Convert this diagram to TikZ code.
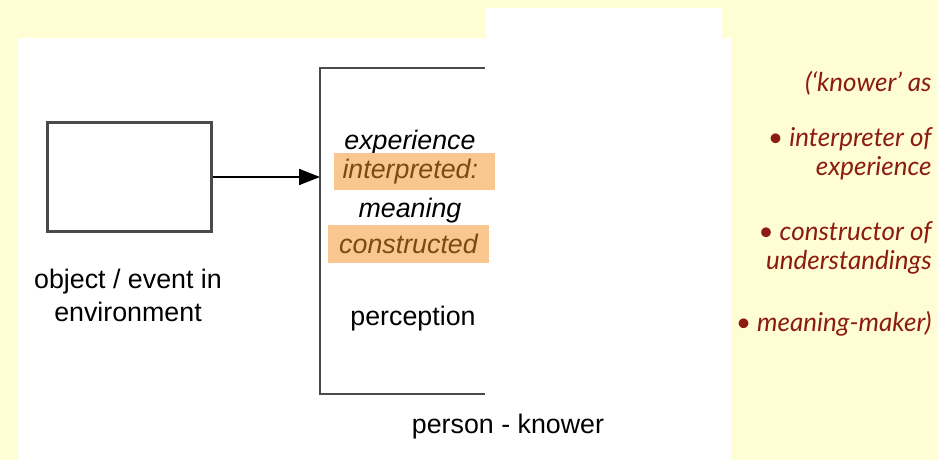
\documentclass[tikz,border=0pt]{standalone}
\usepackage{fontspec}
\setmainfont{Liberation Sans}
\newfontfamily\notefont{Lato}
\usetikzlibrary{arrows.meta}

\definecolor{bgyellow}{HTML}{FFFDD3}
\definecolor{linegray}{HTML}{4A4A4A}
\definecolor{hlorange}{HTML}{F8C68E}
\definecolor{hltext}{HTML}{7A4A14}
\definecolor{notered}{HTML}{8C1B12}

\tikzset{
  lbl/.style={font=\fontsize{13.4}{16.5}\selectfont, inner sep=0pt, align=center},
  ital/.style={lbl, font=\fontsize{13.4}{16.5}\selectfont\itshape},
  hilite/.style={ital, fill=hlorange, text=hltext, minimum width=80.5pt, minimum height=18.5pt},
  note/.style={font=\notefont\fontsize{13}{14.6}\selectfont\itshape, text=notered,
    inner sep=0pt, align=right, anchor=east}
}

\begin{document}
\begin{tikzpicture}[x=0.5pt, y=-0.5pt]
    % Fond jaune et panneau blanc
    \fill[bgyellow] (0,0) rectangle (938,460);
    \fill[white] (18,38) rectangle (731,460);
    \fill[white] (486,8) rectangle (722,38);
    \useasboundingbox (0,0) rectangle (938,460);

    % Objet / evenement
    \node[draw=linegray, line width=1.1pt, minimum width=82pt, minimum height=54.5pt, inner sep=0pt]
        (obj) at (129.5,177) {};
    \node[lbl] (objlbl) at (128,295) {object / event in\\environment};

    % Personne (crochet ouvert)
    \draw[linegray, line width=1pt] (485,68) -- (320,68) -- (320,394) -- (485,394);
    \coordinate (hit) at (320,177);
    \node[lbl] (knower) at (508,427) {person - knower};

    % Fleche vers la personne
    \draw[line width=0.9pt, -{Triangle[length=10.5pt, width=8pt]}] (obj.east) -- (hit);

    % Texte dans la personne
    \node[ital] (exper) at (410,143) {experience};
    \node[hilite, text width=72pt, align=left] (interp) at (414.5,172) {interpreted:};
    \node[ital] (meaning) at (410,211) {meaning};
    \node[hilite] (constr) at (408.5,244) {constructed};
    \node[lbl] (percep) at (413,319) {perception};

    % Notes a droite
    \node[note] (k0) at (932,83) {(‘knower’ as};
    \node[note] (k1) at (932,154) {• interpreter of\\experience};
    \node[note] (k2) at (932,248) {• constructor of\\understandings};
    \node[note] (k3) at (932,324) {• meaning-maker)};
\end{tikzpicture}
\end{document}
